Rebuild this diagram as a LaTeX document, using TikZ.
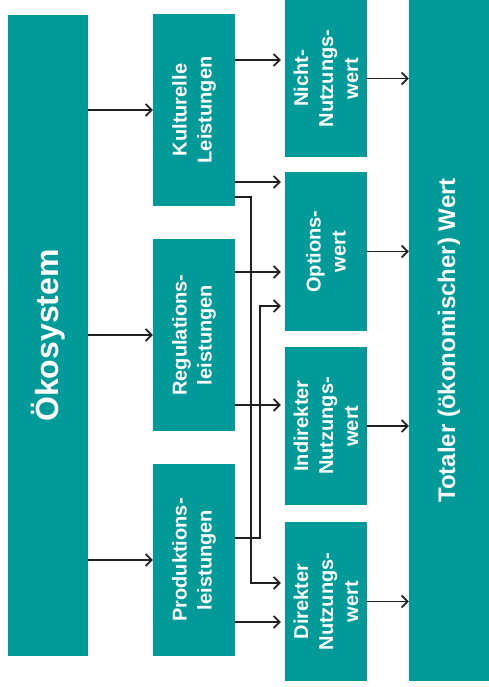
\documentclass[tikz,border=0pt]{standalone}
\usepackage{fontspec}
\setmainfont{Liberation Sans}
\usetikzlibrary{arrows.meta}
\definecolor{oekoteal}{RGB}{0,154,152}
\definecolor{arrowgray}{RGB}{35,31,32}

\begin{document}
\begin{tikzpicture}[x=1pt,y=-1pt,
  box/.style={fill=oekoteal,inner sep=0pt},
  lbl/.style={rotate=90,text=white,align=center,font=\bfseries\fontsize{20}{25}\selectfont},
  arr/.style={draw=arrowgray,line width=1.8pt,-{Straight Barb[length=6pt,width=12pt]}},
  gap/.style={shorten >=4pt}]
\useasboundingbox (0,0) rectangle (489,687);
% Draw the boxes
\node[box,minimum width=80,minimum height=641] (oeko) at (48,335.5) {};
\node[box,minimum width=82,minimum height=192] (kultur) at (194,110) {};
\node[box,minimum width=82,minimum height=192] (regulation) at (194,335) {};
\node[box,minimum width=82,minimum height=192] (produktion) at (194,560) {};
\node[box,minimum width=82,minimum height=157] (nicht) at (326,78.5) {};
\node[box,minimum width=82,minimum height=159] (option) at (326,251.5) {};
\node[box,minimum width=82,minimum height=158] (indirekt) at (326,426) {};
\node[box,minimum width=82,minimum height=159] (direkt) at (326,601.5) {};
\node[box,minimum width=80,minimum height=681] (totaler) at (449,340.5) {};
% Labels
\node[lbl,font=\bfseries\fontsize{32}{38}\selectfont] (oekotext) at (oeko) {Ökosystem};
\node[lbl] (kulturtext) at (kultur) {Kulturelle\\Leistungen};
\node[lbl] (regulationtext) at (regulation) {Regulations-\\leistungen};
\node[lbl] (produktiontext) at (produktion) {Produktions-\\leistungen};
\node[lbl] (nichttext) at (nicht) {Nicht-\\Nutzungs-\\wert};
\node[lbl] (optiontext) at (option) {Options-\\wert};
\node[lbl] (indirekttext) at (indirekt) {Indirekter\\Nutzungs-\\wert};
\node[lbl] (direkttext) at (direkt) {Direkter\\Nutzungs-\\wert};
\node[lbl,font=\bfseries\fontsize{24}{28}\selectfont] (totalertext) at (totaler) {Totaler (ökonomischer) Wert};
% Arrows from the ecosystem
\draw[arr] (oeko.east |- kultur) -- (kultur.west);
\draw[arr] (oeko.east |- regulation) -- (regulation.west);
\draw[arr] (oeko.east |- produktion) -- (produktion.west);
% Arrows from the services to the values
\draw[arr,gap] ([yshift=50pt]kultur.east) -- ([yshift=50pt]kultur.east -| nicht.west);
\draw[arr,gap] ([yshift=-72pt]kultur.east) -- ([yshift=-72pt]kultur.east -| option.west);
\draw[arr,gap] ([yshift=-87pt]kultur.east) -- ++(16,0) |- ([yshift=18.5pt]direkt.west);
\draw[arr,gap] ([yshift=63pt]regulation.east) -- ([yshift=63pt]regulation.east -| option.west);
\draw[arr,gap] ([yshift=-70pt]regulation.east) -- ([yshift=-70pt]regulation.east -| indirekt.west);
\draw[arr,gap] ([yshift=22pt]produktion.east) -- ++(25,0) |- ([yshift=-54.5pt]option.west);
\draw[arr,gap] ([yshift=-62pt]produktion.east) -- ([yshift=-62pt]produktion.east -| direkt.west);
% Arrows to the total value
\draw[arr] (nicht.east) -- (nicht.east -| totaler.west);
\draw[arr] (option.east) -- (option.east -| totaler.west);
\draw[arr] (indirekt.east) -- (indirekt.east -| totaler.west);
\draw[arr] (direkt.east) -- (direkt.east -| totaler.west);
\end{tikzpicture}
\end{document}
